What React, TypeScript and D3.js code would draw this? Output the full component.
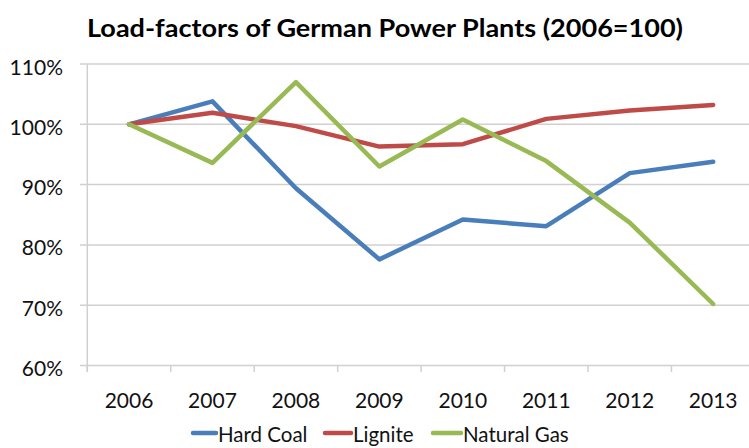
import React from "react";
import * as d3 from "d3";

const years = ["2006", "2007", "2008", "2009", "2010", "2011", "2012", "2013"];
const hardCoal = [100, 103.8, 89.4, 77.6, 84.2, 83.1, 91.9, 93.8];
const lignite = [100, 101.9, 99.7, 96.3, 96.7, 100.9, 102.3, 103.2];
const naturalGas = [100, 93.6, 107.0, 93.0, 100.8, 93.9, 83.7, 70.2];
const yTicks = [60, 70, 80, 90, 100, 110];
const seriesNames = ["Hard Coal", "Lignite", "Natural Gas"];
const seriesColors = ["#4A7EBB", "#BE4B48", "#98B954"];
const title = "Load-factors of German Power Plants (2006=100)";

const W = 749;
const H = 448;
const FONT = "Lato, 'Open Sans', sans-serif";

export default function App() {
  const x0 = 87.3;
  const band = 83.45;
  const x = d3.scaleBand<string>().domain(years).range([x0, x0 + band * years.length]).padding(0);
  const y = d3.scaleLinear().domain([60, 110]).range([365.5, 64]);
  const cx = (yr: string) => (x(yr) as number) + x.bandwidth() / 2;
  const series = [hardCoal, lignite, naturalGas];
  const line = d3
    .line<number>()
    .x((_, i) => cx(years[i]))
    .y((v) => y(v));
  const grid = "#D0D0D0";
  const legendItems = [
    { lx: 193, tx: 218 },
    { lx: 325, tx: 353 },
    { lx: 433, tx: 463 },
  ];
  return (
    <svg
      width={W}
      height={H}
      style={{ position: "absolute", left: 0, top: 0, background: "#fff" }}
      fontFamily={FONT}
    >
      <rect width={W} height={H} fill="#fff" />
      <text
        x={87}
        y={37}
        fontSize={25}
        fontWeight="bold"
        fill="#000"
        textLength={596}
        lengthAdjust="spacingAndGlyphs"
      >
        {title}
      </text>
      {yTicks.map((t) => (
        <g key={t}>
          <line x1={80} x2={W} y1={y(t)} y2={y(t)} stroke={grid} strokeWidth={1.5} />
          <text x={63} y={y(t) + 10.5} textAnchor="end" fontSize={21} fill="#111">
            {t}%
          </text>
        </g>
      ))}
      <line x1={x0} x2={x0} y1={y(110)} y2={372} stroke={grid} strokeWidth={1.5} />
      {years.map((yr) => (
        <line
          key={"t" + yr}
          x1={x(yr) as number}
          x2={x(yr) as number}
          y1={y(60)}
          y2={372}
          stroke={grid}
          strokeWidth={1.5}
        />
      ))}
      {years.map((yr) => (
        <text key={yr} x={cx(yr)} y={408} textAnchor="middle" fontSize={21} fill="#111">
          {yr}
        </text>
      ))}
      {series.map((s, i) => (
        <path
          key={seriesNames[i]}
          d={line(s) || ""}
          fill="none"
          stroke={seriesColors[i]}
          strokeWidth={4.5}
          strokeLinejoin="round"
          strokeLinecap="round"
        />
      ))}
      {seriesNames.map((n, i) => (
        <g key={n}>
          <line
            x1={legendItems[i].lx}
            x2={legendItems[i].tx - 2}
            y1={433}
            y2={433}
            stroke={seriesColors[i]}
            strokeWidth={4.5}
            strokeLinecap="round"
          />
          <text x={legendItems[i].tx} y={442} fontSize={20.5} fill="#111">
            {n}
          </text>
        </g>
      ))}
    </svg>
  );
}
